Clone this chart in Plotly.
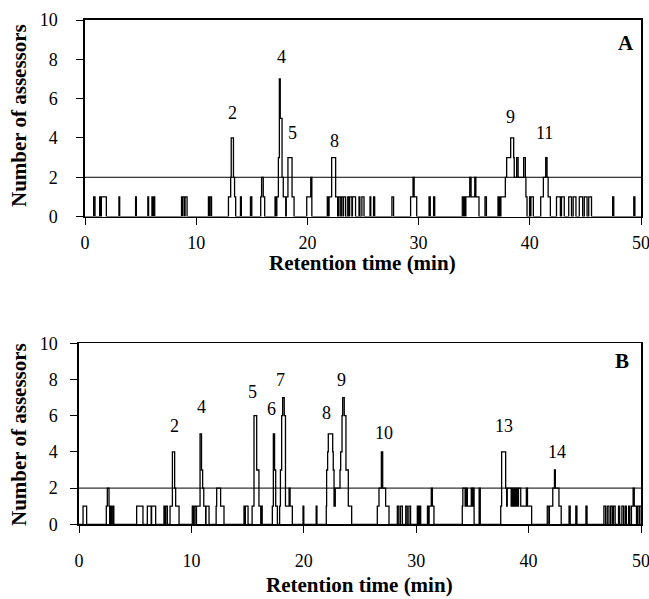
import plotly.graph_objects as go

# ---------------- data ----------------
# Panel A: change points (retention time, min) and number of assessors from that time on
rt_A = [0.0,
        0.78, 0.9,
        1.32, 1.42, 1.47, 1.92,
        3.05, 3.12,
        4.55, 4.62,
        5.65, 5.72,
        6.02, 6.1, 6.15, 6.27,
        8.68, 8.76, 8.8, 8.95, 9.0, 9.18,
        11.1, 11.2, 11.25, 11.38,
        12.9, 13.1, 13.15, 13.35, 13.45, 13.55,
        13.98, 14.06,
        14.88, 15.0,
        15.8, 15.88, 16.03, 16.16,
        17.09, 17.2, 17.25, 17.39, 17.48, 17.56, 17.72, 17.83, 18.05, 18.1, 18.25, 18.62, 18.8,
        19.94, 20.3, 20.4,
        21.79, 21.9, 21.95, 22.18, 22.54, 22.72, 22.8,
        22.84, 23.0, 23.05, 23.2, 23.25, 23.44,
        23.63, 23.75, 23.8, 24.0, 24.05, 24.33,
        24.64, 24.72, 24.9, 25.09,
        25.63, 25.7, 25.95, 26.05,
        27.6, 27.75,
        29.28, 29.5, 29.6, 29.83,
        30.94, 31.05, 31.35, 31.45,
        33.93, 34.05, 34.1, 34.2, 34.25, 34.6, 34.72, 35.05, 35.15, 35.43,
        35.97, 36.1,
        37.14, 37.2, 37.25, 37.35, 37.4, 37.8, 37.92, 38.28, 38.55, 38.6, 38.82, 38.95,
        39.45, 39.6, 39.65, 39.75,
        39.98, 40.05, 40.1, 40.32,
        40.98, 41.22, 41.43, 41.55, 41.65, 41.85,
        42.4, 42.75, 42.85, 43.1, 43.5, 43.75, 43.9, 44.15, 44.45, 44.75, 44.9, 45.15, 45.3, 45.55,
        47.45, 47.55,
        49.35, 49.45,
        50.0]
n_A = [0,
       1, 0,
       1, 0, 1, 0,
       1, 0,
       1, 0,
       1, 0,
       1, 0, 1, 0,
       1, 0, 1, 0, 1, 0,
       1, 0, 1, 0,
       1, 2, 4, 2, 1, 0,
       1, 0,
       1, 0,
       1, 2, 1, 0,
       1, 0, 1, 3, 7, 5, 2, 1, 0, 1, 3, 1, 0,
       1, 2, 0,
       1, 0, 1, 3, 1, 0, 0,
       1, 0, 1, 0, 1, 0,
       1, 0, 1, 0, 1, 0,
       1, 0, 1, 0,
       1, 0, 1, 0,
       1, 0,
       1, 2, 1, 0,
       1, 0, 1, 0,
       1, 0, 1, 0, 1, 2, 1, 2, 1, 0,
       1, 0,
       1, 0, 1, 0, 1, 2, 3, 4, 3, 2, 3, 2,
       3, 2, 1, 0,
       1, 0, 1, 0,
       1, 2, 3, 2, 1, 0,
       1, 0, 1, 0, 1, 0, 1, 0, 1, 0, 1, 0, 1, 0,
       1, 0,
       1, 0,
       0]

# Panel B
rt_B = [0.0,
        0.36, 0.68,
        2.43, 2.52, 2.67, 2.73,
        2.8, 2.88, 3.0, 3.1,
        5.13, 5.69,
        6.08, 6.42, 6.46, 6.82,
        7.56, 7.65, 7.72, 7.86,
        8.1, 8.31, 8.51, 8.6, 8.9,
        10.08, 10.2, 10.25, 10.4, 10.45, 10.77, 10.9, 11.0, 11.1, 11.27, 11.3, 11.57,
        12.2, 12.25, 12.6, 12.9,
        14.68, 14.75, 14.8, 15.04,
        15.4, 15.57, 15.81, 16.01, 16.17, 16.25, 16.3, 16.52,
        17.2, 17.29, 17.4, 17.5, 17.65,
        17.85, 17.92, 18.03, 18.12, 18.26, 18.37, 18.69, 18.78, 18.98,
        19.93, 20.0,
        21.1, 21.17,
        22.0, 22.03, 22.12, 22.18, 22.57, 22.62, 22.69, 22.8, 23.22, 23.28, 23.4, 23.46, 23.6, 23.75, 23.96, 24.26,
        26.54, 26.69, 26.9, 27.02, 27.28, 27.58,
        28.32, 28.45, 28.6, 28.77,
        29.07, 29.2, 29.35, 29.5,
        30.1, 30.2, 30.3, 30.4,
        31.0, 31.1, 31.15, 31.34, 31.44, 31.58,
        34.1, 34.15, 34.35, 34.45, 34.55, 34.9, 35.0, 35.1, 35.15,
        35.6, 35.7,
        37.52, 37.6, 37.96, 38.05, 38.1, 38.45, 38.5, 38.6, 38.65, 38.75, 38.8, 38.9, 38.95,
        39.05, 39.1, 39.3, 39.8, 39.9, 40.27,
        41.66, 41.8, 41.85, 42.15, 42.3, 42.38, 42.7, 42.9,
        43.6, 43.7,
        44.2, 44.3,
        45.1, 45.2,
        46.7, 46.85, 47.0, 47.15,
        47.3, 47.45, 47.55, 47.7,
        48.0, 48.1, 48.3, 48.45, 48.6, 48.7, 48.9, 49.0, 49.15, 49.3, 49.4, 49.6, 49.7, 49.85, 49.9,
        50.0]
n_B = [0,
       1, 0,
       1, 2, 1, 0,
       1, 0, 1, 0,
       1, 0,
       1, 0, 1, 0,
       1, 0, 1, 0,
       1, 4, 2, 1, 0,
       1, 0, 1, 0, 1, 5, 3, 2, 1, 0, 1, 0,
       1, 2, 1, 0,
       1, 0, 1, 0,
       1, 6, 3, 1, 0, 1, 0, 0,
       1, 5, 3, 1, 0,
       1, 3, 6, 7, 6, 1, 2, 1, 0,
       1, 0,
       1, 0,
       1, 3, 4, 5, 4, 3, 1, 2, 3, 4, 6, 7, 6, 3, 1, 0,
       1, 2, 4, 2, 1, 0,
       1, 0, 1, 0,
       1, 0, 1, 0,
       1, 0, 1, 0,
       1, 0, 1, 2, 1, 0,
       1, 2, 1, 2, 1, 2, 1, 2, 0,
       2, 0,
       1, 4, 2, 1, 2, 1, 2, 1, 2, 1, 2, 1, 2,
       1, 2, 1, 2, 1, 0,
       1, 0, 1, 2, 3, 2, 1, 0,
       1, 0,
       1, 0,
       1, 0,
       1, 0, 1, 0,
       1, 0, 1, 0,
       1, 0, 1, 0, 1, 0, 1, 0, 1, 2, 1, 0, 1, 0, 1,
       1]

THRESHOLD = 2
x_ticks = [0, 10, 20, 30, 40, 50]
y_ticks = [0, 2, 4, 6, 8, 10]

# peak numbers: label, retention time of label, label height (assessor units)
peaks_A_label = ["2", "4", "5", "8", "9", "11"]
peaks_A_rt = [13.25, 17.63, 18.64, 22.42, 38.28, 41.28]
peaks_A_y = [5.28, 8.13, 4.27, 3.86, 5.05, 4.24]

peaks_B_label = ["2", "4", "5", "6", "7", "8", "9", "10", "13", "14"]
peaks_B_rt = [8.54, 10.92, 15.42, 17.14, 17.95, 22.04, 23.37, 27.16, 37.81, 42.55]
peaks_B_y = [5.43, 6.5, 7.33, 6.35, 8.0, 6.13, 8.0, 5.06, 5.43, 4.01]

# ---------------- figure ----------------
W, H = 649, 599
SERIF = "Liberation Serif, Times New Roman, serif"

fig = go.Figure()
fig.add_trace(go.Scatter(x=rt_A, y=n_A, mode="lines", line=dict(shape="hv", color="black", width=1.3),
                         xaxis="x", yaxis="y", showlegend=False, hoverinfo="skip"))
fig.add_trace(go.Scatter(x=rt_B, y=n_B, mode="lines", line=dict(shape="hv", color="black", width=1.3),
                         xaxis="x2", yaxis="y2", showlegend=False, hoverinfo="skip"))


def px_x(p):
    return p / W


def px_y(p):
    return (H - p) / H


axis_common = dict(showline=True, linecolor="black", linewidth=1.6, mirror=True,
                   showgrid=False, zeroline=False, ticks="outside", ticklen=7,
                   tickcolor="black", tickwidth=1, automargin=False,
                   ticklabeloverflow="allow",
                   tickfont=dict(family=SERIF, size=18, color="black"))
inner_ticks = dict(showline=False, showgrid=False, zeroline=False, ticks="inside", ticklen=6,
                   tickcolor="black", tickwidth=1, showticklabels=False, automargin=False)

fig.update_layout(
    template="none",
    width=W, height=H, margin=dict(l=0, r=0, t=0, b=0, pad=0, autoexpand=False),
    paper_bgcolor="white", plot_bgcolor="white",
    xaxis=dict(domain=[px_x(85), px_x(641)], range=[0, 50], tickvals=x_ticks, anchor="y",
               ticklabelstandoff=2, **axis_common),
    yaxis=dict(domain=[px_y(216.6), px_y(20)], range=[0, 10], tickvals=y_ticks, anchor="x",
               ticklabelstandoff=15, **axis_common),
    xaxis2=dict(domain=[px_x(79), px_x(641)], range=[0, 50], tickvals=x_ticks, anchor="y2",
                ticklabelstandoff=12, **axis_common),
    yaxis2=dict(domain=[px_y(524.3), px_y(343.3)], range=[0, 10], tickvals=y_ticks, anchor="x2",
                ticklabelstandoff=9, **axis_common),
    # overlay axes that draw the inner half of the crossing tick marks
    xaxis3=dict(overlaying="x", anchor="y", range=[0, 50], tickvals=x_ticks, **inner_ticks),
    yaxis3=dict(overlaying="y", anchor="x", range=[0, 10], tickvals=y_ticks, **inner_ticks),
    xaxis4=dict(overlaying="x2", anchor="y2", range=[0, 50], tickvals=x_ticks, **inner_ticks),
    yaxis4=dict(overlaying="y2", anchor="x2", range=[0, 10], tickvals=y_ticks, **inner_ticks),
)

# threshold lines
for xr, yr in (("x", "y"), ("x2", "y2")):
    fig.add_shape(type="line", xref=f"{xr} domain", yref=yr, x0=0, x1=1, y0=THRESHOLD, y1=THRESHOLD,
                  line=dict(color="black", width=1))

ann = []
for lab, xx, yy in zip(peaks_A_label, peaks_A_rt, peaks_A_y):
    ann.append(dict(text=lab, x=xx, y=yy, xref="x", yref="y", showarrow=False,
                    xanchor="center", yanchor="middle",
                    font=dict(family=SERIF, size=18, color="black")))
for lab, xx, yy in zip(peaks_B_label, peaks_B_rt, peaks_B_y):
    ann.append(dict(text=lab, x=xx, y=yy, xref="x2", yref="y2", showarrow=False,
                    xanchor="center", yanchor="middle",
                    font=dict(family=SERIF, size=18, color="black")))

title_font = dict(family=SERIF, size=21, color="black")


def paper_text(text, x, y, angle=0, font=title_font):
    return dict(text=text, x=px_x(x), y=px_y(y), xref="paper", yref="paper", showarrow=False,
                xanchor="center", yanchor="middle", textangle=angle, font=font)


ann += [
    paper_text("<b>A</b>", 626, 43),
    paper_text("<b>B</b>", 622, 361),
    paper_text("<b>Retention time (min)</b>", 362, 263),
    paper_text("<b>Retention time (min)</b>", 360, 585),
    paper_text("<b>Number of assessors</b>", 19, 116, angle=-90),
    paper_text("<b>Number of assessors</b>", 19, 435, angle=-90),
]
fig.update_layout(annotations=ann)

# the page body's default 8 px margin would shift the 649x599 figure; remove it
fig.write_html("out.html",
               config={"displayModeBar": False, "staticPlot": True},
               post_script="document.body.style.margin='0';document.body.style.padding='0';"
                           "document.body.style.overflow='hidden';")
